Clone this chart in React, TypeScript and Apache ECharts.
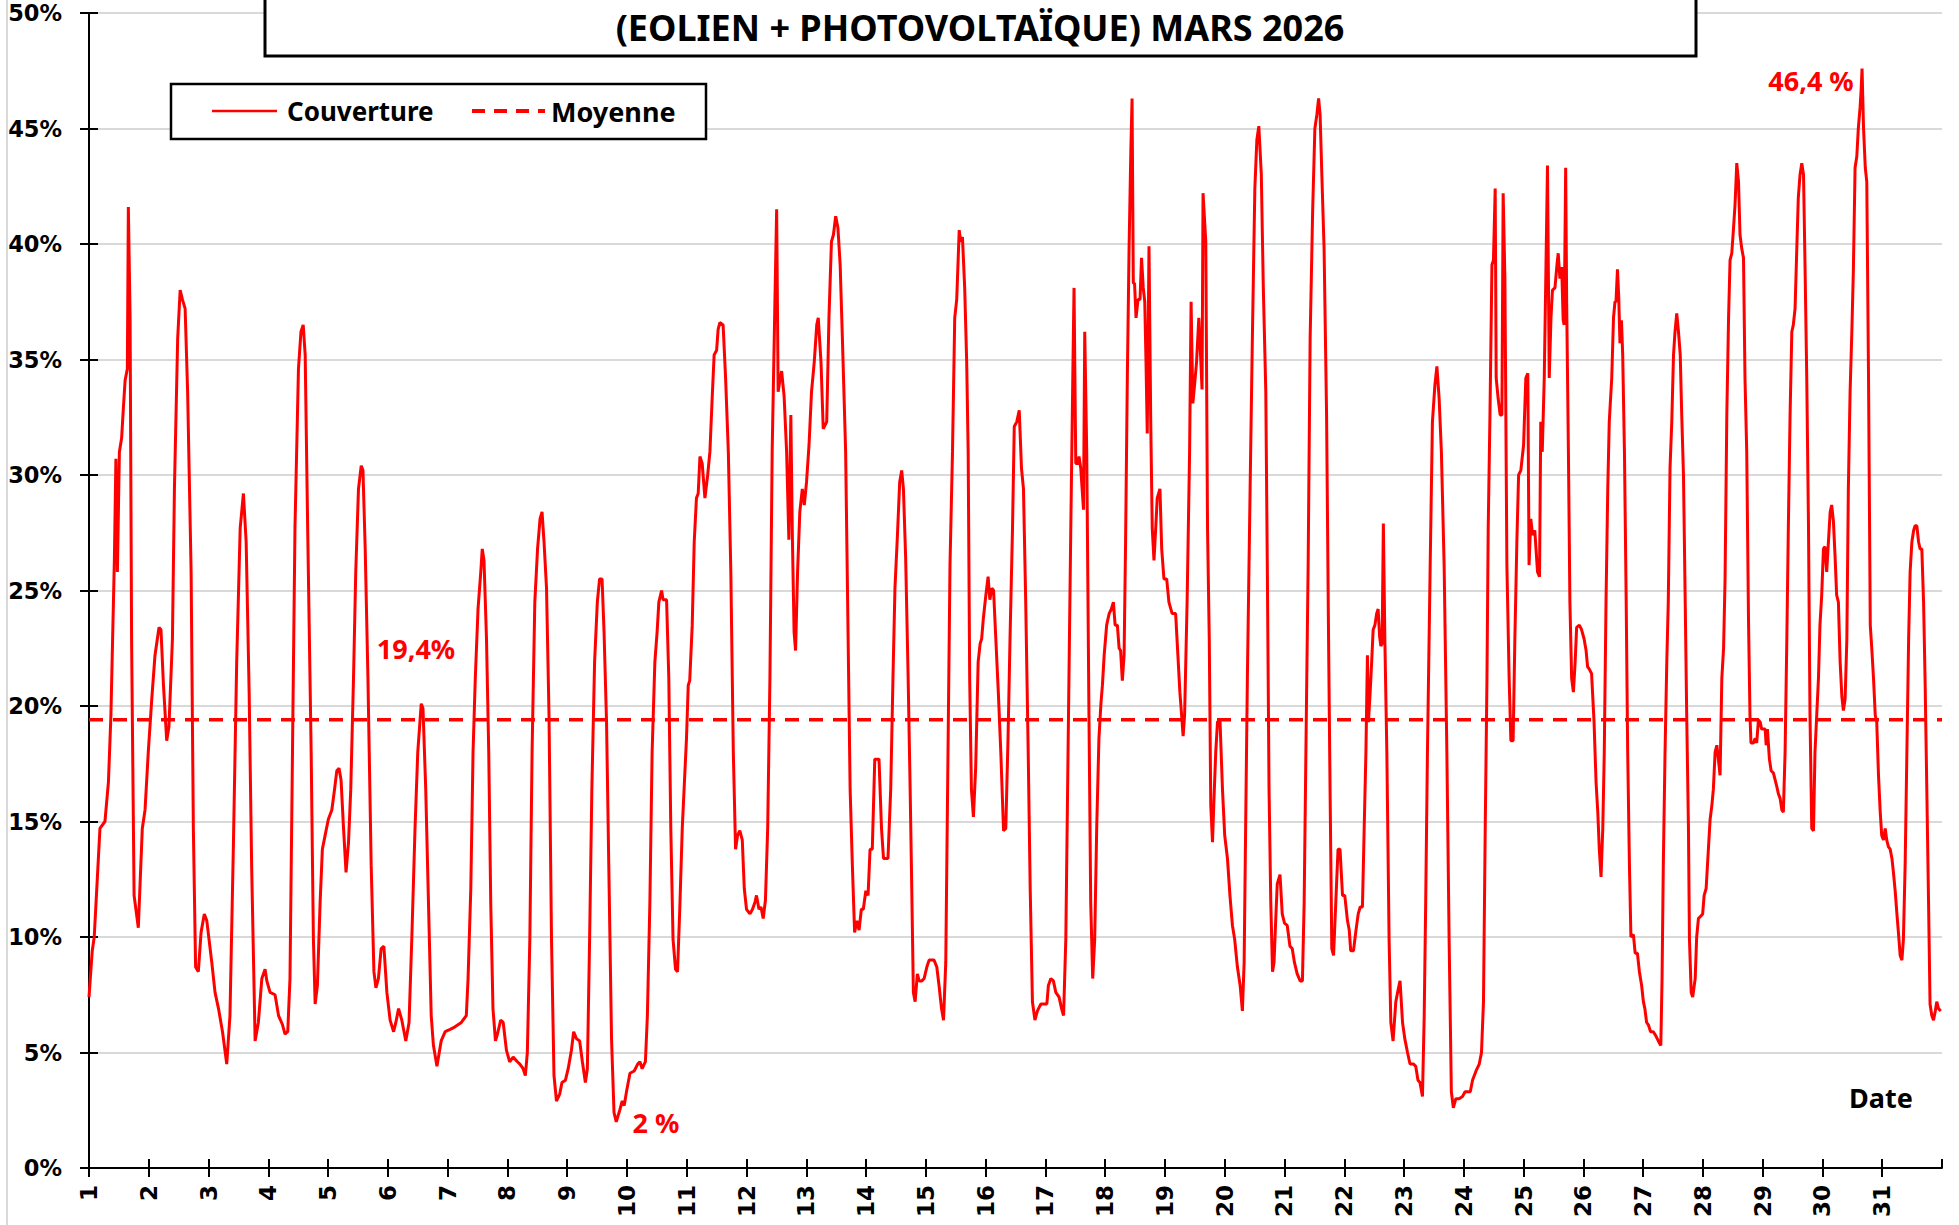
import React, { useEffect, useRef } from "react";
import * as echarts from "echarts";

const TITLE = "(EOLIEN + PHOTOVOLTAÏQUE) MARS 2026";
const DAY_LABELS = ["1","2","3","4","5","6","7","8","9","10","11","12","13","14","15","16","17","18","19","20","21","22","23","24","25","26","27","28","29","30","31"];
const MEAN = 19.4;
const MEAN_POINTS: [number, number][] = [[0, MEAN], [744, MEAN]];

// [hour since 1 March 00:00, coverage %]
const SEG1: [number, number][] = [[0,7.4],[1.3,9.4],[2.1,10.0],[4.4,14.7],[6.4,15.0],[7.8,16.7],[8.8,19.6],[10.2,26.4],[10.8,30.7],[11.4,25.8],[12.2,31.0],[13.1,31.6],[13.8,32.9],[14.5,34.1],[15.4,34.6],[15.8,41.6],[16.5,36.8],[17.1,22.9],[18.1,11.8],[19.8,10.4],[21.4,14.7],[22.5,15.5],[23.8,18.0],[25.2,20.3],[26.5,22.2],[28.1,23.4],[28.9,23.3],[29.9,20.9],[31.2,18.5],[32.1,19.1],[33.5,22.9],[34.3,29.4],[35.6,35.9],[36.6,38.0],[37.5,37.6],[38.6,37.2],[39.6,33.6],[41.0,25.8],[41.9,14.7],[42.8,8.7],[43.9,8.5],[45.0,10.2],[46.3,11.0],[47.3,10.7],[49.3,8.9],[50.6,7.6],[52.0,6.9],[53.6,5.9],[55.3,4.5],[56.6,6.6],[58.0,14.1],[59.3,21.9],[60.7,27.7],[62.0,29.2],[63.1,27.1],[64.3,20.6],[65.3,13.1],[66.7,5.5],[68.0,6.3],[69.4,8.2],[70.7,8.6],[71.4,8.1],[72.7,7.6],[74.7,7.5],[76.1,6.6],[77.7,6.2],[78.7,5.8],[79.8,5.9],[80.7,8.2],[81.7,18.0],[82.7,27.7],[84.1,34.6],[85.1,36.2],[86.0,36.5],[86.8,35.2],[87.8,27.7],[89.2,18.0],[90.1,9.9],[90.8,7.1],[91.7,7.9],[92.8,11.5],[93.7,13.8],[94.8,14.4],[96.1,15.1],[97.5,15.5],[98.6,16.4],[99.5,17.2],[100.4,17.3],[101.2,16.8],[102.2,14.7],[103.2,12.8],[104.2,14.1],[105.1,16.4],[106.2,21.2],[107.1,25.8],[108.2,29.4],[109.3,30.4],[110.0,30.2],[110.9,26.8],[112.0,21.2],[113.3,13.1],[114.4,8.5],[115.2,7.8],[116.2,8.2],[117.3,9.5],[118.4,9.6],[119.6,7.6],[120.9,6.4],[122.3,5.9],[123.2,6.3],[124.3,6.9],[125.6,6.4],[127.2,5.5],[128.5,6.3],[129.6,9.9],[130.9,14.7],[132.0,18.0],[133.4,20.1],[134.1,19.9],[135.2,16.4],[136.3,11.5],[137.4,6.6],[138.3,5.3],[139.7,4.4],[141.4,5.5],[143.0,5.9],[145.0,6.0]];

const SEG2: [number, number][] = [[146.8,6.1],[149.5,6.3],[151.5,6.6],[152.2,8.2],[153.3,12.1],[154.2,18.0],[155.1,21.2],[156.2,24.2],[157.3,25.8],[157.9,26.8],[158.6,26.3],[159.6,22.9],[160.5,18.0],[161.3,11.5],[162.2,6.9],[163.2,5.5],[164.0,5.8],[165.3,6.4],[166.3,6.3],[167.6,5.1],[168.9,4.6],[170.3,4.8],[172.0,4.6],[173.0,4.5],[174.3,4.3],[175.2,4.0],[176.0,5.0],[177.0,9.9],[177.9,18.0],[179.0,24.5],[180.1,26.8],[181.1,28.1],[181.9,28.4],[182.7,27.1],[183.7,25.1],[184.7,19.6],[185.7,9.9],[186.7,4.0],[187.7,2.9],[189.0,3.2],[189.9,3.7],[191.3,3.8],[192.4,4.3],[193.7,5.1],[194.6,5.9],[195.7,5.6],[197.0,5.5],[198.1,4.6],[199.3,3.7],[200.1,4.3],[201.0,9.9],[201.9,16.4],[203.0,21.9],[204.1,24.5],[205.0,25.5],[206.0,25.5],[206.8,23.2],[207.8,19.3],[208.7,13.1],[209.8,5.6],[210.8,2.4],[211.7,2.0],[213.1,2.5],[214.1,2.9],[214.9,2.7],[215.8,3.3],[217.2,4.1],[218.9,4.2],[220.3,4.5],[221.2,4.6],[222.1,4.3],[223.4,4.6],[224.2,6.6],[225.2,11.5],[226.1,18.0],[227.2,21.9],[228.1,23.2],[228.8,24.5],[229.9,25.0],[230.5,24.6],[231.9,24.6],[232.8,21.2],[233.6,14.7],[234.5,9.9],[235.5,8.6],[236.3,8.5],[237.2,11.2],[238.2,14.7],[239.2,17.0],[239.9,18.6],[240.6,20.9],[241.2,21.1],[242.2,23.5],[243.0,27.1],[243.9,29.0],[244.6,29.2],[245.3,30.8],[246.2,30.5],[247.3,29.0],[248.4,30.0],[249.3,31.0],[250.2,33.3],[251.0,35.2],[252.0,35.4],[252.6,36.3],[253.3,36.6],[254.6,36.5],[255.6,34.2],[256.7,31.0],[257.7,25.8],[258.7,18.0],[259.6,13.8],[260.4,14.4],[261.3,14.6],[262.3,14.2],[263.1,12.1],[264.0,11.2],[265.4,11.0],[266.4,11.2],[267.4,11.5],[268.0,11.8],[269.0,11.2],[269.8,11.3],[270.7,10.8],[271.6,11.6],[272.5,14.7],[273.4,21.2],[274.3,31.0],[275.4,37.5],[276.1,41.5],[276.7,33.6],[277.4,34.1],[278.1,34.5],[279.1,33.4],[280.1,31.0],[281.0,27.2],[281.8,32.6],[282.4,27.4],[283.1,23.2],[283.7,22.4],[284.5,25.8],[285.4,28.4],[286.4,29.4],[287.2,28.7],[288.1,29.7],[289.1,31.3],[290.1,33.6],[291.2,34.9],[292.2,36.5],[292.8,36.8],[293.9,34.9],[294.8,32.0]];

const SEG3: [number, number][] = [[296.2,32.3],[297.1,36.8],[298.1,40.1],[298.9,40.4],[299.8,41.2],[300.7,40.7],[301.6,39.1],[302.5,35.9],[303.8,31.0],[304.8,22.9],[305.6,16.4],[306.5,13.1],[307.4,10.2],[308.3,10.7],[309.2,10.3],[310.1,11.2],[310.9,11.2],[311.9,12.0],[312.8,11.8],[313.6,13.8],[314.5,13.8],[315.5,17.7],[316.3,17.7],[317.2,17.7],[318.2,14.7],[319.0,13.4],[319.9,13.4],[320.8,13.4],[321.9,16.4],[322.8,21.2],[323.6,25.1],[324.6,27.4],[325.5,29.7],[326.3,30.2],[327.0,29.4],[327.9,26.4],[328.9,21.2],[329.7,16.4],[330.2,13.1],[331.0,7.6],[331.7,7.2],[332.6,8.4],[333.3,8.1],[334.4,8.1],[335.3,8.2],[336.4,8.7],[337.3,9.0],[338.3,9.0],[339.3,9.0],[340.4,8.7],[341.3,7.9],[342.3,6.9],[343.1,6.4],[344.0,8.9],[344.9,18.0],[345.7,26.1],[346.7,31.0],[347.6,36.8],[348.4,37.6],[349.4,40.6],[350.0,40.1],[350.7,40.3],[351.6,38.1],[352.4,34.9],[353.0,31.0],[353.6,21.2],[354.3,16.4],[355.1,15.2],[356.0,17.3],[357.0,21.9],[357.8,22.7],[358.4,22.9],[359.1,23.8],[360.1,24.8],[361.0,25.6],[361.7,24.6],[362.5,25.1],[363.2,25.0],[364.1,22.9],[365.1,20.6],[366.1,18.0],[367.2,14.6],[368.1,14.7],[369.0,18.6],[369.8,22.9],[370.8,27.7],[371.5,32.1],[372.5,32.3],[373.5,32.8],[374.4,30.3],[375.2,29.4],[376.1,24.5],[377.1,18.0],[377.9,12.1],[378.8,7.2],[379.8,6.4],[380.8,6.8],[382.2,7.1],[383.5,7.1],[384.6,7.1],[385.2,7.9],[386.2,8.2],[387.2,8.1],[388.2,7.6],[389.5,7.4],[390.5,6.9],[391.3,6.6],[392.2,9.9],[393.1,18.0],[394.2,27.7],[395.0,34.2],[395.5,38.1],[396.2,30.5],[396.9,30.5],[397.5,30.8],[398.2,30.3],[399.3,28.5],[399.8,36.2],[400.6,31.0],[401.5,19.6],[402.2,11.5],[403.0,8.2],[403.8,9.9],[404.6,14.7],[405.5,18.6],[406.3,20.1],[406.9,20.9],[407.6,22.2],[408.6,23.5],[409.6,24.0],[410.5,24.2],[411.3,24.5],[412.0,23.5],[412.9,23.5],[413.6,22.5],[414.2,22.4],[414.9,21.1],[415.6,22.2],[416.2,27.1],[416.9,34.2],[417.6,39.8],[418.3,44.0],[418.8,46.3],[419.3,38.3],[419.8,38.3],[420.4,36.8],[421.2,37.6],[422.0,37.6],[422.6,39.4],[423.3,38.1],[423.9,37.5],[424.4,34.9],[424.9,31.8],[425.6,39.9],[426.3,32.3],[426.9,27.7],[427.6,26.3],[428.3,27.7],[428.9,29.0],[430.0,29.4],[430.7,26.8],[431.6,25.5],[432.7,25.5],[433.6,24.5],[434.9,24.0],[436.3,24.0],[437.2,22.2],[438.0,20.6],[438.7,19.6],[439.3,18.7],[439.9,19.6],[440.9,24.5],[441.9,31.0],[442.5,37.5],[443.2,33.1],[443.9,33.9],[444.7,34.9],[445.6,36.8],[446.3,35.2],[446.9,33.7],[447.3,42.2]];

const SEG4: [number, number][] = [[448.4,40.1],[449.1,27.7],[449.8,22.9],[450.4,15.7],[451.1,14.1],[451.7,16.0],[452.4,18.0],[453.1,19.3],[454.1,19.4],[455.1,16.4],[456.0,14.4],[457.1,13.4],[458.1,11.8],[459.1,10.5],[460.0,9.9],[461.1,8.7],[462.2,7.9],[463.1,6.8],[463.8,8.9],[464.4,14.7],[465.1,21.2],[466.2,29.4],[467.1,35.9],[468.1,42.4],[468.9,44.5],[469.7,45.1],[470.7,43.0],[471.5,38.1],[472.5,33.6],[473.1,26.1],[473.8,16.4],[474.5,11.5],[475.2,8.5],[475.8,8.9],[476.5,10.8],[477.1,12.3],[478.2,12.7],[479.1,11.0],[480.0,10.6],[481.1,10.5],[482.2,9.6],[483.1,9.5],[484.0,8.9],[485.1,8.4],[486.3,8.1],[487.2,8.1],[487.9,11.5],[488.6,18.0],[489.5,26.1],[490.3,35.9],[491.3,41.4],[492.2,45.0],[493.0,45.6],[493.7,46.3],[494.3,45.6],[495.0,43.0],[495.9,39.8],[496.9,32.6],[497.7,22.9],[498.3,16.4],[499.0,9.5],[499.7,9.2],[500.6,11.5],[501.5,13.8],[502.3,13.8],[503.3,11.8],[504.2,11.8],[505.3,10.7],[506.0,10.3],[506.6,9.4],[507.7,9.4],[508.6,10.2],[509.6,11.0],[510.4,11.3],[511.3,11.3],[512.0,14.7],[512.7,18.0],[513.3,22.2],[513.7,19.3],[514.4,20.6],[515.0,21.9],[515.6,23.3],[516.3,23.5],[517.0,24.0],[517.6,24.2],[518.2,23.0],[518.7,22.6],[519.2,22.7],[519.7,27.9],[520.3,22.9],[521.1,18.0],[522.0,9.9],[522.7,6.3],[523.6,5.5],[524.7,7.2],[525.6,7.7],[526.4,8.1],[527.4,6.3],[528.3,5.6],[529.4,5.0],[530.4,4.5],[531.8,4.5],[532.7,4.4],[533.6,3.8],[534.4,3.7],[535.4,3.1],[536.1,6.6],[536.7,11.5],[537.4,18.0],[538.5,26.1],[539.4,32.3],[540.4,33.9],[541.2,34.7],[542.1,33.3],[543.0,31.0],[544.1,26.1],[545.2,18.0],[546.1,9.9],[547.0,3.3],[547.8,2.6],[548.8,3.0],[550.1,3.0],[551.5,3.1],[552.5,3.3],[553.8,3.3],[554.6,3.3],[555.5,3.8],[556.9,4.2],[558.2,4.5],[559.1,5.0],[559.9,7.2],[560.6,14.7],[561.3,21.2],[561.8,27.7],[562.5,32.6],[563.3,39.1],[563.9,39.3],[564.6,42.4],[565.0,34.2],[565.8,33.3],[566.6,32.6],[567.3,32.6],[567.8,42.2],[568.5,38.5],[569.3,26.1],[570.2,21.2],[570.9,18.5],[571.8,18.5],[572.5,22.9],[573.3,27.1],[574.0,30.0],[574.9,30.2],[576.0,31.3],[576.9,34.2],[577.7,34.4],[578.2,26.1],[578.9,28.1],[579.6,27.4],[580.5,27.6],[581.6,25.8],[582.4,25.6],[582.9,32.3],[583.5,31.0],[584.3,34.2],[585.0,39.1],[585.6,43.4],[586.3,34.2],[587.0,36.8],[587.6,38.0],[588.6,38.1],[589.4,39.1],[589.9,39.6],[590.6,38.5],[591.3,39.0],[591.9,36.7],[592.3,36.5],[592.9,43.3]];

const SEG5: [number, number][] = [[593.3,37.5],[594.0,31.0],[594.6,24.5],[595.3,21.2],[596.0,20.6],[596.7,21.9],[597.3,23.4],[598.4,23.5],[599.3,23.3],[600.3,22.9],[601.1,22.4],[601.7,21.7],[602.4,21.6],[603.3,21.4],[604.3,19.3],[605.1,16.7],[605.8,15.4],[606.4,13.8],[607.1,12.6],[607.8,14.7],[608.4,18.0],[609.1,24.5],[609.8,29.4],[610.4,32.3],[611.4,34.2],[612.1,36.8],[612.7,37.5],[613.1,37.5],[613.7,38.9],[614.2,37.7],[614.7,35.7],[615.3,36.7],[615.8,35.2],[616.5,31.0],[617.2,24.5],[617.8,18.0],[618.5,13.1],[619.1,10.0],[620.1,10.1],[620.8,9.3],[621.7,9.3],[622.5,8.5],[623.4,7.9],[624.1,7.2],[624.7,6.9],[625.4,6.3],[626.1,6.2],[627.0,5.9],[628.1,5.9],[629.2,5.7],[630.1,5.5],[631.1,5.3],[631.6,8.2],[632.1,13.1],[632.8,18.0],[633.5,21.9],[634.1,24.5],[634.8,30.3],[635.5,32.3],[636.2,35.2],[636.8,36.2],[637.5,37.0],[638.2,36.2],[638.9,35.2],[639.5,32.6],[640.2,30.0],[640.9,24.5],[641.5,19.6],[642.2,14.7],[642.6,9.9],[643.3,7.6],[643.9,7.4],[644.9,8.2],[645.5,10.0],[646.2,10.8],[647.1,10.9],[647.9,11.0],[648.5,11.8],[649.3,12.1],[650.2,13.8],[650.9,15.1],[651.6,15.7],[652.2,16.4],[652.9,18.0],[653.6,18.3],[654.2,17.7],[654.9,17.0],[655.6,21.2],[656.3,22.5],[656.9,25.5],[657.6,32.6],[658.3,36.8],[658.9,39.3],[659.6,39.6],[660.3,40.7],[660.9,41.7],[661.6,43.5],[662.3,42.7],[662.9,40.4],[663.6,39.8],[664.3,39.4],[664.9,34.2],[665.6,31.0],[666.3,23.8],[666.9,19.6],[667.3,18.4],[668.3,18.4],[669.0,18.6],[669.6,18.4],[670.3,19.4],[671.0,19.3],[671.6,19.0],[672.3,19.0],[673.0,19.0],[673.4,18.3],[673.9,19.0],[674.7,17.7],[675.4,17.2],[676.3,17.1],[677.0,16.8],[677.7,16.5],[678.3,16.2],[679.0,16.0],[679.7,15.5],[680.3,15.4],[681.0,18.0],[681.7,22.9],[682.3,27.7],[683.0,32.6],[683.7,36.2],[684.3,36.5],[685.0,37.2],[685.7,39.8],[686.3,42.0],[687.0,43.0],[687.7,43.5],[688.4,43.0],[689.0,39.1],[689.7,34.2],[690.4,27.7],[691.0,19.6],[691.7,14.7],[692.4,14.6],[693.0,18.0],[693.7,19.6],[694.4,21.2],[695.0,23.5],[695.7,24.8],[696.4,26.8],[697.0,26.9],[697.7,25.8],[698.4,27.1],[699.1,28.4],[699.7,28.7],[700.4,28.0],[701.1,26.4],[701.7,24.8],[702.4,24.5],[703.1,21.9],[703.8,20.4],[704.4,19.8],[705.1,20.3],[705.8,22.9],[706.4,29.4],[707.1,33.6],[707.8,36.2],[708.4,38.8],[709.1,43.3],[709.8,43.8],[710.4,45.0],[711.1,45.9],[711.5,46.6],[711.9,47.6],[712.5,45.0],[713.2,43.3],[713.8,42.7],[714.5,34.2],[715.2,23.5],[715.8,22.5],[716.5,21.2],[717.2,19.6],[717.8,19.3],[718.5,17.0],[719.2,15.4],[719.8,14.4],[720.5,14.2],[721.2,14.7],[721.8,14.2],[722.5,13.9],[723.2,13.8],[723.9,13.4],[724.5,12.8],[725.2,12.0],[725.9,11.0],[726.5,10.2],[727.2,9.2],[727.9,9.0],[728.5,9.9],[729.2,13.1],[729.9,18.0],[730.6,22.9],[731.2,25.8],[731.9,27.1],[732.6,27.6],[733.2,27.8],[733.9,27.8],[734.6,27.1],[735.2,26.8],[735.9,26.8],[736.6,24.5],[737.2,21.2],[737.9,16.4],[738.6,11.5],[739.2,7.1],[739.9,6.6],[740.6,6.4],[741.3,6.8],[741.9,7.2],[742.6,6.9],[743.5,6.8]];

const FONT = '"Noto Sans", "Open Sans", sans-serif';
const AXIS_FONT = '"DejaVu Sans", Verdana, sans-serif';
const RED = "#ff0000";

export default function App() {
  const ref = useRef<HTMLDivElement>(null);
  useEffect(() => {
    if (!ref.current) return;
    const chart = echarts.init(ref.current, null, { renderer: "svg" });
    const coverage = [...SEG1, ...SEG2, ...SEG3, ...SEG4, ...SEG5];
    const xLabel = (v: number) => {
      const i = Math.round(v / 24);
      return DAY_LABELS[i] ?? "";
    };
    chart.setOption({
      animation: false,
      backgroundColor: "#ffffff",
      grid: { left: 89, right: 17, top: 13, bottom: 57, containLabel: false },
      xAxis: [
        {
          type: "value", min: 0, max: 744, interval: 24,
          axisLine: { show: true, onZero: false, lineStyle: { color: "#000", width: 2 } },
          axisTick: { show: true, inside: false, length: 9, lineStyle: { color: "#000", width: 2 } },
          axisLabel: { show: true, rotate: 90, margin: 17, formatter: xLabel, color: "#000", fontFamily: AXIS_FONT, fontWeight: "bold", fontSize: 23, showMaxLabel: false },
          splitLine: { show: false },
        },
        {
          type: "value", min: 0, max: 744, interval: 24, position: "bottom",
          axisLine: { show: false },
          axisTick: { show: true, inside: true, length: 9, lineStyle: { color: "#000", width: 2 } },
          axisLabel: { show: false },
          splitLine: { show: false },
        },
      ],
      yAxis: [
        {
          type: "value", min: 0, max: 50, interval: 5,
          axisLine: { show: true, lineStyle: { color: "#000", width: 2 } },
          axisTick: { show: true, inside: false, length: 9, lineStyle: { color: "#000", width: 2 } },
          axisLabel: { formatter: (v: number) => `${v}%`, color: "#000", fontFamily: AXIS_FONT, fontWeight: "bold", fontSize: 22.5, margin: 27 },
          splitLine: { show: true, lineStyle: { color: "#d9d9d9", width: 2 } },
        },
        {
          type: "value", min: 0, max: 50, interval: 5, position: "left",
          axisLine: { show: false },
          axisTick: { show: true, inside: true, length: 9, lineStyle: { color: "#000", width: 2 } },
          axisLabel: { show: false },
          splitLine: { show: false },
        },
      ],
      series: [
        {
          name: "Couverture", type: "line", data: coverage, showSymbol: false, symbol: "none",
          lineStyle: { color: RED, width: 3 }, z: 3,
        },
        {
          name: "Moyenne", type: "line", data: MEAN_POINTS, showSymbol: false, symbol: "none",
          lineStyle: { color: RED, width: 3.5, type: [14, 10] }, z: 2,
        },
      ],
      graphic: [
        { type: "line", shape: { x1: 7, y1: 0, x2: 7, y2: 1225 }, style: { stroke: "#d9d9d9", lineWidth: 2 }, z: 1 },
        { type: "rect", shape: { x: 265, y: -10, width: 1431, height: 66 }, style: { fill: "#fff", stroke: "#000", lineWidth: 3 }, z: 100 },
        { type: "text", x: 980, y: 27, z: 101, style: { text: TITLE, font: `bold 36px ${FONT}`, fill: "#000", align: "center", verticalAlign: "middle" } },
        { type: "rect", shape: { x: 171, y: 84, width: 535, height: 55 }, style: { fill: "#fff", stroke: "#000", lineWidth: 2.5 }, z: 100 },
        { type: "line", shape: { x1: 212, y1: 111, x2: 277, y2: 111 }, style: { stroke: RED, lineWidth: 2.5 }, z: 101 },
        { type: "text", x: 287, y: 111, z: 101, style: { text: "Couverture", font: `bold 26px ${FONT}`, fill: "#000", align: "left", verticalAlign: "middle" } },
        { type: "line", shape: { x1: 472, y1: 111, x2: 545, y2: 111 }, style: { stroke: RED, lineWidth: 4, lineDash: [13, 9] }, z: 101 },
        { type: "text", x: 551, y: 111, z: 101, style: { text: "Moyenne", font: `bold 27px ${FONT}`, fill: "#000", align: "left", verticalAlign: "middle" } },
        { type: "text", x: 416, y: 648, z: 101, style: { text: "19,4%", font: `bold 27px ${FONT}`, fill: RED, align: "center", verticalAlign: "middle" } },
        { type: "text", x: 656, y: 1122, z: 101, style: { text: "2 %", font: `bold 27px ${FONT}`, fill: RED, align: "center", verticalAlign: "middle" } },
        { type: "text", x: 1811, y: 80, z: 101, style: { text: "46,4 %", font: `bold 27px ${FONT}`, fill: RED, align: "center", verticalAlign: "middle" } },
        { type: "text", x: 1881, y: 1097, z: 101, style: { text: "Date", font: `bold 27px ${FONT}`, fill: "#000", align: "center", verticalAlign: "middle" } },
      ],
    });
    return () => chart.dispose();
  }, []);
  return <div ref={ref} style={{ position: "fixed", left: 0, top: 0, width: 1959, height: 1225, background: "#fff" }} />;
}
